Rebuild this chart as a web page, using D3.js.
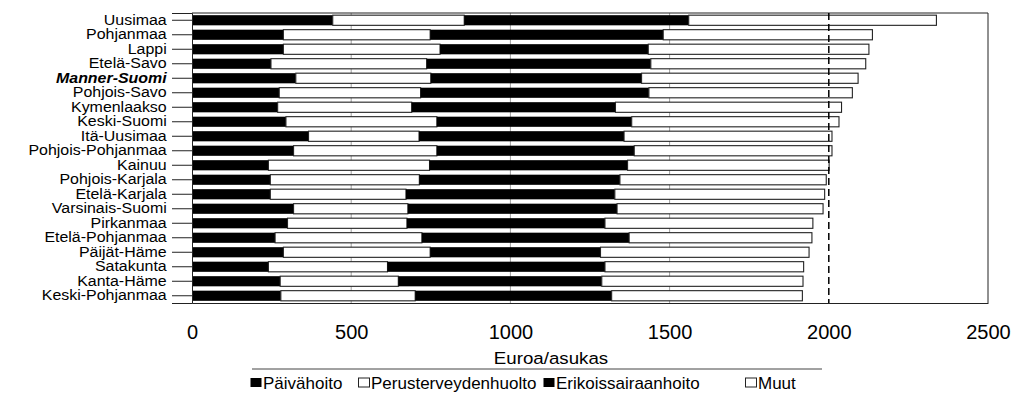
<!DOCTYPE html>
<html lang="fi">
<head>
  <meta charset="UTF-8">
  <title>Euroa/asukas</title>
  <script src="https://d3js.org/d3.v7.min.js"></script>
  <style>
    body { margin: 0; background: #fff; }
    svg { font-family: "Liberation Sans", Arial, sans-serif; }
  </style>
</head>
<body>
  <svg id="chart" width="1012" height="401"></svg>
  <script>
    const regions = ["Uusimaa", "Pohjanmaa", "Lappi", "Etelä-Savo", "Manner-Suomi", "Pohjois-Savo",
      "Kymenlaakso", "Keski-Suomi", "Itä-Uusimaa", "Pohjois-Pohjanmaa", "Kainuu", "Pohjois-Karjala",
      "Etelä-Karjala", "Varsinais-Suomi", "Pirkanmaa", "Etelä-Pohjanmaa", "Päijät-Häme", "Satakunta",
      "Kanta-Häme", "Keski-Pohjanmaa"];

    const seriesNames = ["Päivähoito", "Perusterveydenhuolto", "Erikoissairaanhoito", "Muut"];

    const paivahoito = [442, 287, 287, 248, 326, 274, 269, 295, 366, 319, 240, 246, 246, 319, 300, 261, 287, 240, 277, 279];
    const perusterveydenhuolto = [413, 461, 492, 489, 424, 444, 421, 474, 347, 450, 506, 468, 426, 359, 375, 461, 461, 374, 371, 422];
    const erikoissairaanhoito = [705, 732, 654, 704, 662, 717, 640, 612, 644, 620, 622, 630, 656, 657, 622, 651, 535, 683, 639, 617];
    const muut = [778, 657, 693, 675, 680, 639, 710, 651, 653, 621, 633, 648, 659, 647, 653, 574, 655, 624, 632, 599];

    const xTicks = [0, 500, 1000, 1500, 2000, 2500];
    const refLine = 2000;

    const fills = ["#000", "#fff", "#000", "#fff"];

    const svg = d3.select("#chart");
    const margin = { top: 13, right: 24, bottom: 98, left: 192 };
    const width = 1012, height = 401;

    const x = d3.scaleLinear().domain([0, 2500]).range([margin.left, width - margin.right]);
    const y = d3.scaleBand().domain(regions).range([margin.top, height - margin.bottom])
      .paddingInner(0.3).paddingOuter(0.15);

    const table = regions.map((r, i) => ({
      region: r,
      "Päivähoito": paivahoito[i],
      "Perusterveydenhuolto": perusterveydenhuolto[i],
      "Erikoissairaanhoito": erikoissairaanhoito[i],
      "Muut": muut[i]
    }));
    const stacked = d3.stack().keys(seriesNames)(table);

    // faint gridlines
    svg.append("g")
      .selectAll("line")
      .data([500, 1000, 1500])
      .join("line")
      .attr("x1", d => x(d)).attr("x2", d => x(d))
      .attr("y1", margin.top).attr("y2", height - margin.bottom)
      .attr("stroke", "#777").attr("stroke-width", 0.7);

    // frame top + right
    svg.append("path")
      .attr("d", `M${x(0)},${margin.top}H${x(2500)}V${height - margin.bottom}`)
      .attr("fill", "none").attr("stroke", "#222").attr("stroke-width", 1);

    // bars
    svg.append("g")
      .selectAll("g")
      .data(stacked)
      .join("g")
      .attr("fill", (d, i) => fills[i])
      .attr("stroke", (d, i) => i % 2 ? "#222" : "none")
      .attr("stroke-width", 1.1)
      .selectAll("rect")
      .data(d => d)
      .join("rect")
      .attr("x", d => x(d[0]))
      .attr("y", d => y(d.data.region))
      .attr("width", d => x(d[1]) - x(d[0]))
      .attr("height", y.bandwidth());

    // dashed line at 2000
    svg.append("line")
      .attr("x1", x(refLine)).attr("x2", x(refLine))
      .attr("y1", margin.top).attr("y2", height - margin.bottom)
      .attr("stroke", "#000").attr("stroke-width", 1.5)
      .attr("stroke-dasharray", "7,4");

    // x axis
    const xAxis = svg.append("g")
      .attr("transform", `translate(0,${height - margin.bottom})`)
      .call(d3.axisBottom(x).tickValues(xTicks).tickFormat(d3.format("d")).tickSize(0).tickPadding(22));
    xAxis.select(".domain").attr("stroke", "#222");
    xAxis.selectAll("text")
      .attr("font-size", 20)
      .attr("fill", "#000");

    svg.append("text")
      .attr("transform", `translate(551,364) scale(1.1,1)`)
      .attr("text-anchor", "middle")
      .attr("font-size", 17)
      .text("Euroa/asukas");

    // y axis
    const yAxis = svg.append("g")
      .attr("transform", `translate(${x(0)},0)`)
      .call(d3.axisLeft(y).tickSize(20).tickPadding(3));
    yAxis.select(".domain").attr("stroke", "#222");
    yAxis.selectAll("line").attr("stroke", "#222");
    yAxis.selectAll("text")
      .attr("font-size", 14.5)
      .attr("fill", "#000")
      .attr("transform", "scale(1.1,1)")
      .attr("font-weight", d => d === "Manner-Suomi" ? "bold" : null)
      .attr("font-style", d => d === "Manner-Suomi" ? "italic" : null);

    // legend
    const legendX = [250, 358, 543, 745];
    svg.append("line")
      .attr("x1", 252).attr("x2", 822)
      .attr("y1", 369).attr("y2", 369)
      .attr("stroke", "#444").attr("stroke-width", 1);
    const legend = svg.append("g")
      .selectAll("g")
      .data(seriesNames)
      .join("g")
      .attr("transform", (d, i) => `translate(${legendX[i]},383)`);
    legend.append("rect")
      .attr("x", 0.5).attr("y", -5)
      .attr("width", 11).attr("height", 9)
      .attr("fill", (d, i) => fills[i])
      .attr("stroke", (d, i) => i % 2 ? "#222" : "none");
    legend.append("text")
      .attr("x", 13).attr("dy", "0.35em")
      .attr("font-size", 17)
      .text(d => d);
  </script>
</body>
</html>
